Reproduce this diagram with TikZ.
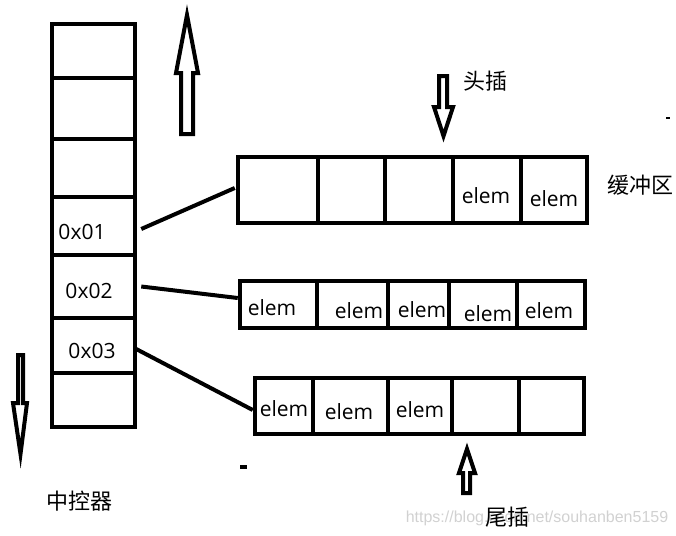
\documentclass[tikz,border=0pt]{standalone}
\usepackage{fontspec}
\setmainfont{Open Sans}
\newfontfamily\cjk{Noto Sans CJK SC}
\newfontfamily\wmfont{Liberation Sans}
\begin{document}
\begin{tikzpicture}[x=1pt,y=-1pt,
  cell/.style={draw, rectangle, inner sep=0pt, line width=4.5pt},
  txt/.style={font=\fontsize{21}{25}\selectfont, inner sep=0pt},
  cn/.style={font=\cjk\fontsize{22}{26}\selectfont, inner sep=0pt},
  conn/.style={line width=4pt},
  blockarrow/.style={draw, line width=4pt, line join=miter, miter limit=10}]
\useasboundingbox (0,0) rectangle (676,535);
% watermark
\node[font=\wmfont\fontsize{16}{18}\selectfont, text=black!18, inner sep=0pt] (wm) at (537,518) {https://blog.csdn.net/souhanben5159};
% control column
\node[cell, minimum width=83pt, minimum height=54pt] (c1) at (93.5,51) {};
\node[cell, minimum width=83pt, minimum height=61pt] (c2) at (93.5,108.5) {};
\node[cell, minimum width=83pt, minimum height=58pt] (c3) at (93.5,168) {};
\node[cell, minimum width=83pt, minimum height=58pt] (c4) at (93.5,226) {};
\node[cell, minimum width=83pt, minimum height=63pt] (c5) at (93.5,286.5) {};
\node[cell, minimum width=83pt, minimum height=55pt] (c6) at (93.5,345.5) {};
\node[cell, minimum width=83pt, minimum height=54pt] (c7) at (93.5,400) {};
\node[txt] (h1) at (82,232) {0x01};
\node[txt] (h2) at (89,290.5) {0x02};
\node[txt] (h3) at (92,350.5) {0x03};
% buffer 1
\node[cell, minimum width=80pt, minimum height=66pt] (b1a) at (278,190) {};
\node[cell, minimum width=67pt, minimum height=66pt] (b1b) at (351.5,190) {};
\node[cell, minimum width=68pt, minimum height=66pt] (b1c) at (419,190) {};
\node[cell, minimum width=68pt, minimum height=66pt] (b1d) at (487,190) {};
\node[cell, minimum width=66pt, minimum height=66pt] (b1e) at (554,190) {};
\node[txt] (e1d) at (486,196) {elem};
\node[txt] (e1e) at (554,199) {elem};
% buffer 2
\node[cell, minimum width=77pt, minimum height=47pt] (b2a) at (278.5,304.5) {};
\node[cell, minimum width=71pt, minimum height=47pt] (b2b) at (352.5,304.5) {};
\node[cell, minimum width=61pt, minimum height=47pt] (b2c) at (418.5,304.5) {};
\node[cell, minimum width=68pt, minimum height=47pt] (b2d) at (483,304.5) {};
\node[cell, minimum width=68pt, minimum height=47pt] (b2e) at (551,304.5) {};
\node[txt] (e2a) at (272,307.5) {elem};
\node[txt] (e2b) at (359,310.5) {elem};
\node[txt] (e2c) at (422,309.5) {elem};
\node[txt] (e2d) at (488,313.5) {elem};
\node[txt] (e2e) at (549,310.5) {elem};
% buffer 3
\node[cell, minimum width=58pt, minimum height=56pt] (b3a) at (284,406) {};
\node[cell, minimum width=75pt, minimum height=56pt] (b3b) at (350.5,406) {};
\node[cell, minimum width=64pt, minimum height=56pt] (b3c) at (420,406) {};
\node[cell, minimum width=67pt, minimum height=56pt] (b3d) at (485.5,406) {};
\node[cell, minimum width=65pt, minimum height=56pt] (b3e) at (551.5,406) {};
\node[txt] (e3a) at (284,409) {elem};
\node[txt] (e3b) at (349,411.5) {elem};
\node[txt] (e3c) at (420,409.5) {elem};
% connectors
\draw[conn] ([xshift=4pt,yshift=-3pt]c4.east) -- ([xshift=-1pt,yshift=2pt]b1a.west);
\draw[conn] ([xshift=4pt]c5.east) -- ([yshift=6.5pt]b2a.west);
\draw[conn] ([xshift=-3pt,yshift=-2.5pt]c6.east) -- ([yshift=-4pt]b3a.west);
% labels
\node[cn] (lhead) at (485,81) {头插};
\node[cn] (lbuf) at (640,185) {缓冲区};
\node[cn] (ltail) at (507,517) {尾插};
\node[cn] (lctl) at (79,501) {中控器};
% block arrows
\draw[blockarrow] (181,134) -- (181,73) -- (176,73) -- (187,15) -- (198,73) -- (193,73) -- (193,134) -- cycle;
\draw[blockarrow] (18,355) -- (18,403) -- (13,403) -- (20.5,454) -- (27,403) -- (23,403) -- (23,355) -- cycle;
\draw[blockarrow] (439,76) -- (439,107) -- (434,107) -- (443.5,136) -- (453,107) -- (447,107) -- (447,76) -- cycle;
\draw[blockarrow] (463,493) -- (463,473) -- (459,473) -- (467,449) -- (475,473) -- (470,473) -- (470,493) -- cycle;
% stray marks
\fill (240,465) rectangle (247,469);
\fill (666,117) rectangle (670,119);
\end{tikzpicture}
\end{document}
